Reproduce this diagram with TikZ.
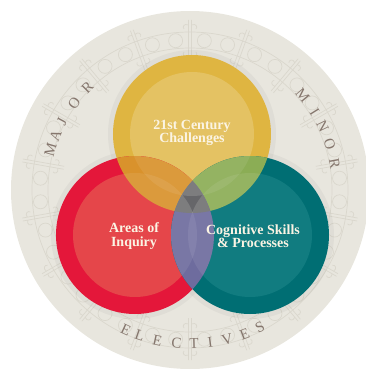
\documentclass[tikz,border=0pt]{standalone}
\usepackage{fontspec}
\newfontfamily\labelfont{Liberation Serif}
\usetikzlibrary{positioning}
\definecolor{bgbeige}{HTML}{E8E6DE}
\definecolor{ornament}{HTML}{DAD7CD}
\definecolor{ringtext}{HTML}{85766D}
\definecolor{yellowout}{HTML}{DFB541}
\definecolor{yellowin}{HTML}{E4C263}
\definecolor{redout}{HTML}{E4173A}
\definecolor{redin}{HTML}{E5464A}
\definecolor{tealout}{HTML}{006E73}
\definecolor{tealin}{HTML}{117C80}
\definecolor{orangemix}{HTML}{D9922C}
\definecolor{greenmix}{HTML}{8BAD55}
\definecolor{purplemix}{HTML}{6E6C9E}
\definecolor{graymix}{HTML}{666669}
\definecolor{labeltext}{HTML}{FBF4E4}

\begin{document}
\begin{tikzpicture}
	[x=1pt, y=1pt,
	 ringletter/.style={text=ringtext, font=\labelfont\fontsize{15}{15}\selectfont, inner sep=0pt},
	 venntext/.style={text=labeltext, font=\labelfont\bfseries\fontsize{14}{13.5}\selectfont, align=center},
	 post/.style={draw=ornament, line width=0.7pt}]
   \useasboundingbox (-190,-180) rectangle (176,190);
   \fill[bgbeige] (0,0) circle (179);

   % ornament band
   \draw[post] (0,0) circle (142) (0,0) circle (158);
   \foreach \a in {10,30,...,350} {
     \draw[post] (\a-5.5:150) circle (7) (\a+5.5:150) circle (7);
     \draw[post, rotate=\a] (128,-1.5) -- (170,-1.5) (128,1.5) -- (170,1.5)
       (165,1.5) .. controls (167,6) and (163,8) .. (161,6)
       (165,-1.5) .. controls (167,-6) and (163,-8) .. (161,-6)
       (134,1.5) .. controls (132,6) and (136,8) .. (138,6)
       (134,-1.5) .. controls (132,-6) and (136,-8) .. (138,-6);
   }

   % shadow
   \coordinate (chal) at (2,56);
   \coordinate (area) at (-55,-45);
   \coordinate (cogn) at (60,-45);
   \foreach \c in {chal,area,cogn} {
     \fill[black, opacity=0.035] (\c) circle (84) (\c) circle (82);
   }

   % circles
   \fill[yellowout] (chal) circle (79);
   \fill[yellowin] (chal) circle (62);
   \fill[redout] (area) circle (79);
   \fill[redin] (area) circle (62);
   \fill[tealout] (cogn) circle (79);
   \fill[tealin] (cogn) circle (62);

   % overlaps
   \begin{scope}
     \clip (chal) circle (79);
     \fill[orangemix] (area) circle (79);
     \fill[greenmix] (cogn) circle (79);
   \end{scope}
   \begin{scope}
     \clip (area) circle (79);
     \fill[purplemix] (cogn) circle (79);
   \end{scope}
   \begin{scope}
     \clip (chal) circle (79);
     \clip (area) circle (79);
     \fill[graymix] (cogn) circle (79);
   \end{scope}
   \foreach \p/\q in {chal/area, chal/cogn, area/cogn} {
     \begin{scope}
       \clip (\p) circle (79);
       \clip (\q) circle (79);
       \fill[white, opacity=0.08] (\p) circle (62);
       \fill[white, opacity=0.08] (\q) circle (62);
     \end{scope}
   }

   % labels
   \node[venntext] (chaltext) at (2,57) {21st Century\\Challenges};
   \node[venntext] (areatext) at (-56,-46) {Areas of\\Inquiry};
   \node[venntext] (cogntext) at (63,-46) {Cognitive Skills\\\& Processes};

   % ring words
   \foreach \l/\a [count=\i] in {M/164,A/158,J/152,O/143,R/135}
     \node[ringletter, rotate=\a-90] (major\i) at (\a:145) {\l};
   \foreach \l/\a [count=\i] in {M/40,I/32,N/25.5,O/18,R/10.5}
     \node[ringletter, rotate=\a-90] (minor\i) at (\a:147) {\l};
   \foreach \l/\a [count=\i] in {E/245.4,L/251,E/257.8,C/265,T/271.5,I/277.5,V/284,E/290.8,S/297}
     \node[ringletter, rotate=\a+90] (elect\i) at (\a:154) {\l};
\end{tikzpicture}
\end{document}
